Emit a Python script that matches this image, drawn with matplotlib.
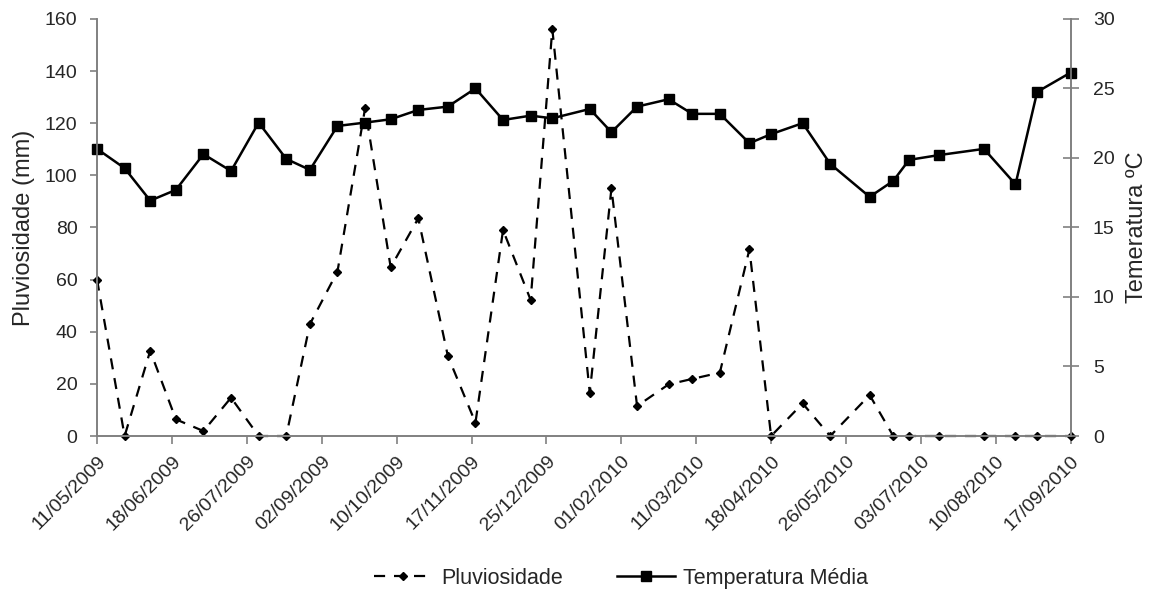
import numpy as np
import pandas as pd
import matplotlib
matplotlib.use('Agg')
from matplotlib import pyplot as plt
import matplotlib.dates as mdates

plt.rcParams['font.family'] = ['Liberation Sans', 'DejaVu Sans']

# sampling dates
dates = ['2009-05-11', '2009-05-25', '2009-06-07', '2009-06-20', '2009-07-04',
         '2009-07-18', '2009-08-01', '2009-08-15', '2009-08-27', '2009-09-10',
         '2009-09-24', '2009-10-07', '2009-10-21', '2009-11-05', '2009-11-19',
         '2009-12-03', '2009-12-17', '2009-12-28', '2010-01-16', '2010-01-27',
         '2010-02-09', '2010-02-25', '2010-03-09', '2010-03-23', '2010-04-07',
         '2010-04-18', '2010-05-04', '2010-05-18', '2010-06-07', '2010-06-19',
         '2010-06-27', '2010-07-12', '2010-08-04', '2010-08-20', '2010-08-31',
         '2010-09-17']

# rainfall (mm)
pluviosidade = [60.0, 0.0, 32.7, 6.4, 1.9, 14.7, 0.0, 0.0, 42.9, 63.1,
                125.7, 64.7, 83.5, 30.7, 5.1, 79.0, 52.2, 156.1, 16.6, 95.0,
                11.5, 19.8, 21.9, 24.3, 71.6, 0.0, 12.5, 0.0, 15.7, 0.0,
                0.0, 0.0, 0.0, 0.0, 0.0, 0.0]

# mean temperature (C)
temperatura = [20.65, 19.26, 16.93, 17.7, 20.27, 19.06, 22.54, 19.93, 19.14, 22.3,
               22.54, 22.78, 23.45, 23.69, 25.0, 22.73, 23.04, 22.85, 23.52, 21.85,
               23.69, 24.22, 23.17, 23.17, 21.06, 21.71, 22.5, 19.57, 17.2, 18.35,
               19.86, 20.2, 20.65, 18.1, 24.75, 26.14]

x = pd.to_datetime(dates)
tick_dates = pd.date_range('2009-05-11', periods=14, freq='38D')

axis_color = '#808080'
text_color = '#262626'

fig = plt.figure(figsize=(11.55, 5.90), dpi=100)
ax1 = fig.add_axes([0.084, 0.261, 0.843, 0.707])
ax2 = ax1.twinx()

l1, = ax1.plot(x, pluviosidade,
               color='black',
               linestyle=(0, (5, 4)),
               linewidth=1.6,
               marker='D',
               markersize=4,
               clip_on=False,
               label='Pluviosidade')
l2, = ax2.plot(x, temperatura,
               color='black',
               linestyle='-',
               linewidth=1.8,
               marker='s',
               markersize=7,
               clip_on=False,
               label='Temperatura Média')

ax1.set_xlim(tick_dates[0], tick_dates[-1])
ax1.set_ylim(0, 160)
ax1.set_yticks(np.arange(0, 161, 20))
ax2.set_ylim(0, 30)
ax2.set_yticks(np.arange(0, 31, 5))

ax1.set_xticks(tick_dates)
ax1.xaxis.set_major_formatter(mdates.DateFormatter('%d/%m/%Y'))
plt.setp(ax1.get_xticklabels(), rotation=45, ha='right', rotation_mode='anchor')

for ax in (ax1, ax2):
    ax.spines['top'].set_visible(False)
    for s in ('left', 'right', 'bottom'):
        ax.spines[s].set_color(axis_color)
        ax.spines[s].set_linewidth(1.2)
    ax.tick_params(colors=axis_color, labelcolor=text_color, labelsize=14,
                   width=1.2)
ax1.tick_params(axis='y', direction='out', length=5, pad=9)
ax2.tick_params(axis='y', direction='inout', length=12, pad=10)
ax1.tick_params(axis='x', direction='out', length=6, pad=6)

ax1.set_ylabel('Pluviosidade (mm)', fontsize=17, color=text_color)
ax2.set_ylabel('Temeratura ºC', fontsize=17, color=text_color)
ax1.yaxis.set_label_coords(-0.064, 0.5)
ax2.yaxis.set_label_coords(1.057, 0.5)

fig.legend(handles=[l1, l2], loc='center', bbox_to_anchor=(0.538, 0.02),
           ncol=2, frameon=False, fontsize=15.5, handlelength=2.7,
           columnspacing=2.5, handletextpad=0.4, labelcolor=text_color)

fig.savefig('out.png', dpi=100)
